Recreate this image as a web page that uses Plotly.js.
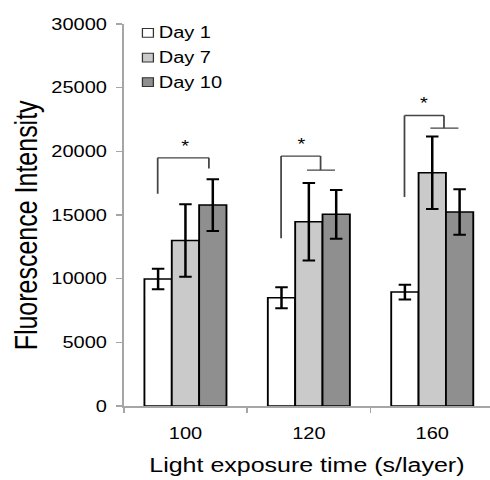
<!DOCTYPE html>
<html>
<head>
<meta charset="utf-8">
<script src="https://cdn.plot.ly/plotly-3.0.1.min.js"></script>
<style>
html,body{margin:0;padding:0;background:#fff;overflow:hidden;width:490px;height:480px;}
#chart{width:392px;height:480px;transform:scaleX(1.25);transform-origin:0 0;}
</style>
</head>
<body>
<div id="chart"></div>
<script>
// Data
const categories = ["100", "120", "160"];
const seriesNames = ["Day 1", "Day 7", "Day 10"];
const day1 = [9970, 8500, 8950];
const day1Err = [800, 820, 580];
const day7 = [13000, 14470, 18320];
const day7Err = [2850, 3040, 2840];
const day10 = [15780, 15050, 15230];
const day10Err = [2030, 1920, 1790];
const seriesColors = ["#ffffff", "#cacaca", "#8f8f8f"];

// Significance brackets (value levels for each group)
const bracketLow = [16665, 13165, 16407];   // bottom of left arm
const bracketTop = [19490, 19625, 22820];   // top of bracket
const bracketDrop = [18660, 18525, 21820];  // bottom of right arm
const hasSubLine = [false, true, true];

const xTitle = "Light exposure time (s/layer)";
const yTitle = "Fluorescence Intensity";

const FONT = "Liberation Sans, Arial, sans-serif";
const values = [day1, day7, day10];
const errs = [day1Err, day7Err, day10Err];

const traces = values.map((v, i) => ({
  type: "bar",
  name: seriesNames[i],
  x: categories,
  y: v,
  marker: {color: seriesColors[i], line: {color: "#000", width: 1.5}},
  error_y: {type: "data", array: errs[i], visible: true, color: "#000", thickness: 2, width: 5},
  hoverinfo: "none",
  showlegend: false
}));

const shapes = [];
const annotations = [];
const lineStyle = {color: "#444", width: 1.4};
categories.forEach((c, g) => {
  const L = g - 0.225;
  const R = hasSubLine[g] ? g + 0.095 : g + 0.19;
  shapes.push({type: "line", xref: "x", yref: "y", x0: L, x1: L, y0: bracketLow[g], y1: bracketTop[g], line: lineStyle});
  shapes.push({type: "line", xref: "x", yref: "y", x0: L, x1: R, y0: bracketTop[g], y1: bracketTop[g], line: lineStyle});
  shapes.push({type: "line", xref: "x", yref: "y", x0: R, x1: R, y0: bracketTop[g], y1: bracketDrop[g], line: lineStyle});
  if (hasSubLine[g]) {
    shapes.push({type: "line", xref: "x", yref: "y", x0: g - 0.015, x1: g + 0.212, y0: bracketDrop[g], y1: bracketDrop[g], line: lineStyle});
  }
  annotations.push({xref: "x", yref: "y", x: g + (g === 0 ? 0 : -0.065), y: bracketTop[g] + 80, text: "*",
    showarrow: false, yanchor: "bottom", font: {family: FONT, size: 16, color: "#000"}});
});

// Legend (drawn in paper coordinates)
const legendRowY = [0.977, 0.912, 0.848];
seriesNames.forEach((name, i) => {
  const yc = legendRowY[i];
  shapes.push({type: "rect", xref: "paper", yref: "paper", x0: 0.051, x1: 0.081,
    y0: yc - 0.0115, y1: yc + 0.0115, fillcolor: seriesColors[i], line: {color: "#333", width: 1}});
  annotations.push({xref: "paper", yref: "paper", x: 0.088, y: yc, xanchor: "left", yanchor: "middle",
    text: name, showarrow: false, font: {family: FONT, size: 16, color: "#000"}});
});

// Y axis title (placed as rotated text)
annotations.push({xref: "paper", yref: "paper", x: -0.27, y: 0.475, xanchor: "center", yanchor: "middle",
  text: yTitle, textangle: -90, showarrow: false, font: {family: FONT, size: 25, color: "#000"}});

const layout = {
  width: 392, height: 480,
  margin: {l: 99.2, r: 0, t: 24, b: 74},
  paper_bgcolor: "#fff", plot_bgcolor: "#fff",
  font: {family: FONT, color: "#000", size: 16},
  barmode: "group",
  bargap: 0.335, bargroupgap: 0,
  showlegend: false,
  xaxis: {
    type: "category", range: [-0.5, 2.468],
    showline: true, linecolor: "#a6a6a6", linewidth: 1.5,
    ticks: "outside", tickson: "boundaries", ticklen: 5, tickcolor: "#a6a6a6", tickwidth: 1.2,
    ticklabelstandoff: 12,
    showgrid: false, zeroline: false,
    tickfont: {family: FONT, size: 16, color: "#000"},
    title: {text: xTitle, font: {family: FONT, size: 20, color: "#000"}, standoff: 17}
  },
  yaxis: {
    range: [0, 30000], dtick: 5000, tickformat: "d",
    showline: true, linecolor: "#a6a6a6", linewidth: 1.2,
    ticks: "outside", ticklen: 5, tickcolor: "#a6a6a6", tickwidth: 1.5,
    ticklabelstandoff: 4,
    showgrid: false, zeroline: false,
    tickfont: {family: FONT, size: 16, color: "#000"}
  },
  shapes: shapes,
  annotations: annotations
};

Plotly.newPlot("chart", traces, layout, {displayModeBar: false, staticPlot: true});
</script>
</body>
</html>
